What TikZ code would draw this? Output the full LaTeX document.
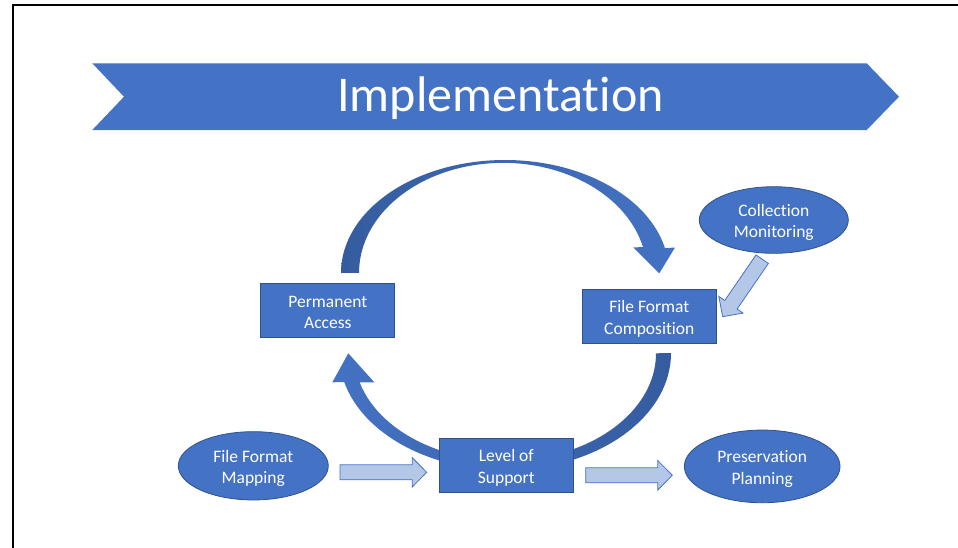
\documentclass[tikz,border=0pt]{standalone}
\usepackage{fontspec}
\setmainfont{Carlito}[Ligatures=NoCommon]
\usetikzlibrary{calc,shapes.geometric}
\definecolor{accent}{HTML}{4472C4}
\definecolor{accentdark}{HTML}{2F528F}
\definecolor{arcdark}{HTML}{355C9E}
\definecolor{lightarrow}{HTML}{B4C7E7}
\newcommand\blockarrow[2]{%
  \coordinate (#1-h) at ($(#2)!14.5pt!(#1)$);
  \draw[barrow] ($(#1)!7.5pt!90:(#2)$) -- ($(#1-h)!7.5pt!90:(#2)$) -- ($(#1-h)!14.7pt!90:(#2)$) -- (#2) -- ($(#1-h)!14.7pt!-90:(#2)$) -- ($(#1-h)!7.5pt!-90:(#2)$) -- ($(#1)!7.5pt!-90:(#2)$) -- cycle;}
\begin{document}
\begin{tikzpicture}[x=1pt,y=-1pt,
  lbl/.style={text=white, align=center, font=\fontsize{17.5}{21.5}\selectfont, inner sep=0pt},
  box/.style={rectangle, draw=accentdark, line width=0.8pt, fill=accent, minimum width=134pt, minimum height=54pt},
  oval/.style={ellipse, draw=accentdark, line width=0.8pt, fill=accent},
  barrow/.style={fill=lightarrow, draw=accent, line width=0.8pt, line join=miter},
  frame/.style={line width=2pt, draw=black}
]
\useasboundingbox (0,0) rectangle (958,547);
% frame
\draw[frame] (13.3,550) -- (13.3,5) -- (960,5);
% banner
\fill[accent] (92.3,63.3) -- (866.7,63.3) -- (899,96.7) -- (866.7,130) -- (92.3,130) -- (124,96.7) -- cycle;
\node[text=white, font=\fontsize{50}{60}\selectfont, inner sep=0pt] (title) at (500.5,98.5) {Implementation};
% cycle arcs
\path[left color=arcdark, right color=accent] (341,273) arc[start angle=180, end angle=347.3, x radius=164, y radius=113] -- (675,247.5) -- (659.3,273.3) -- (633.3,247.5) -- (643,247) arc[start angle=346.4, end angle=180, x radius=144, y radius=110] -- cycle;
\path[left color=accent, right color=arcdark] (671,353) arc[start angle=0, end angle=165.65, x radius=166, y radius=117] -- (332.3,382.3) -- (348.3,353.3) -- (374.3,382.3) -- (359.6,382.3) arc[start angle=164.35, end angle=0, x radius=151, y radius=107.5] -- cycle;
% nodes
\node[box] (pa) at (327.8,310) {};
\node[box, minimum width=133.3pt] (ffc) at (649.3,316.3) {};
\node[box, minimum height=54.4pt] (los) at (506.3,465.5) {};
\node[oval, minimum width=149pt, minimum height=66.6pt] (cm) at (773.8,220) {};
\node[oval, minimum width=150pt, minimum height=68.3pt] (ffm) at (253.3,465.8) {};
\node[oval, minimum width=155.7pt, minimum height=72.7pt] (pp) at (762.2,466.4) {};
% labels
\node[lbl] (pa-t) at ($(pa)+(0,2.5)$) {Permanent\\Access};
\node[lbl] (ffc-t) at ($(ffc)+(0,2.5)$) {File Format\\Composition};
\node[lbl] (los-t) at ($(los)+(0,2.5)$) {Level of\\Support};
\node[lbl] (cm-t) at ($(cm)+(0,2.5)$) {Collection\\Monitoring};
\node[lbl] (ffm-t) at ($(ffm)+(0,2.5)$) {File Format\\Mapping};
\node[lbl] (pp-t) at ($(pp)+(0,2.5)$) {Preservation\\Planning};
% block arrows
\coordinate (a1s) at (340,472.3);
\coordinate (a1t) at (426.7,472.3);
\coordinate (a2s) at (585.7,475.3);
\coordinate (a2t) at (672.3,475.3);
\coordinate (a3s) at (762.2,259.2);
\coordinate (a3t) at (722.7,316.7);
\blockarrow{a1s}{a1t}
\blockarrow{a2s}{a2t}
\blockarrow{a3s}{a3t}
\end{tikzpicture}
\end{document}
